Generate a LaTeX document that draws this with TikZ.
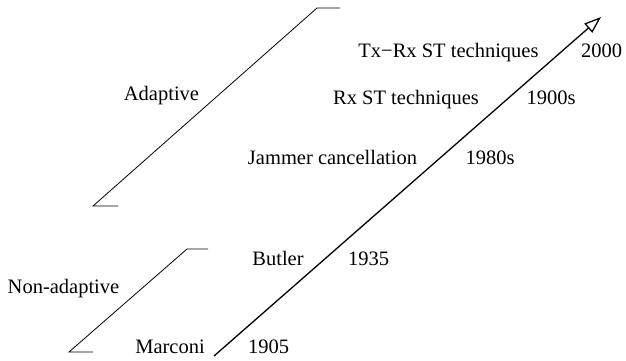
\documentclass[tikz,border=0pt]{standalone}
\usepackage{fontspec}
\setmainfont{Liberation Serif}
\usetikzlibrary{arrows.meta}
\begin{document}
\begin{tikzpicture}[x=1pt,y=-1pt,
  lbl/.style={anchor=base,inner sep=0pt,font=\fontsize{20.5}{24}\selectfont},
  bracketline/.style={draw,line width=0.8pt},
  mainarrow/.style={draw,line width=1.3pt,-{Triangle[open,length=17pt,width=12pt,line width=1.3pt]}}]
\useasboundingbox (0,0) rectangle (626,361);
% Adaptive bracket
\coordinate (a1) at (118,206);
\coordinate (a2) at (93,206);
\coordinate (a3) at (317,8);
\coordinate (a4) at (340,8);
\draw[bracketline] (a1) -- (a2) -- (a3) -- (a4);
% Non-adaptive bracket
\coordinate (n1) at (93,352);
\coordinate (n2) at (69,352);
\coordinate (n3) at (187,249);
\coordinate (n4) at (208,249);
\draw[bracketline] (n1) -- (n2) -- (n3) -- (n4);
% main time arrow
\coordinate (t0) at (214,356);
\coordinate (t1) at (601,17);
\draw[mainarrow] (t0) -- (t1);
% labels
\node[lbl] (adaptive) at (161.5,100) {Adaptive};
\node[lbl] (nonadaptive) at (63.5,293) {Non-adaptive};
\node[lbl] (marconi) at (170,353) {Marconi};
\node[lbl] (y1905) at (268.5,353) {1905};
\node[lbl] (butler) at (278,265) {Butler};
\node[lbl] (y1935) at (368.5,265) {1935};
\node[lbl] (jammer) at (332.5,164) {Jammer cancellation};
\node[lbl] (y1980) at (490,164) {1980s};
\node[lbl] (rxst) at (406,104) {Rx ST techniques};
\node[lbl] (y1900) at (551,104) {1900s};
\node[lbl] (txrx) at (448.5,57) {Tx−Rx ST techniques};
\node[lbl] (y2000) at (601.5,57) {2000};
\end{tikzpicture}
\end{document}
